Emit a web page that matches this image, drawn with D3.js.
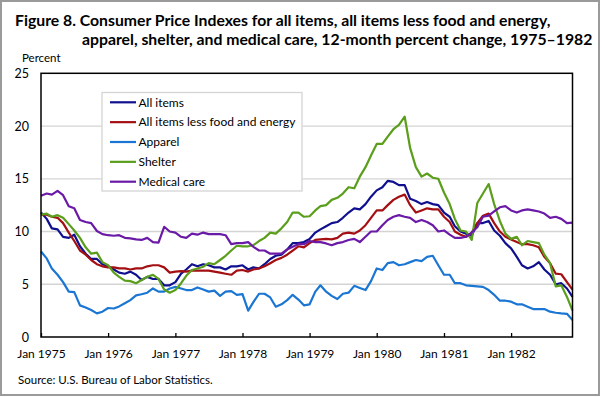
<!DOCTYPE html>
<html>
<head>
<meta charset="utf-8">
<script src="https://cdn.jsdelivr.net/npm/d3@7"></script>
<style>
  body { margin: 0; background: #fff; }
  svg { display: block; font-family: Lato, "Open Sans", sans-serif; }
</style>
</head>
<body>
<div id="chart"></div>
<script>
// monthly 12-month percent change, Jan 1975 .. Dec 1982
const startYear = 1975
const yTicks = [0, 5, 10, 15, 20, 25]

const allItems = [
    11.8, 11.2, 10.3, 10.2, 9.5, 9.4, 9.7, 8.6, 7.9, 7.4, 7.4, 6.9,
    6.7, 6.4, 6.1, 6.0, 6.2, 5.9, 5.4, 5.7, 5.5, 5.5, 4.9, 4.9,
    5.2, 6.0, 6.4, 6.9, 6.7, 6.9, 6.8, 6.6, 6.6, 6.4, 6.7, 6.7,
    6.8, 6.4, 6.6, 6.5, 6.9, 7.4, 7.7, 7.8, 8.3, 8.9, 8.9, 9.0,
    9.3, 9.9, 10.2, 10.5, 10.8, 10.9, 11.3, 11.8, 12.2, 12.1, 12.6, 13.3,
    13.9, 14.2, 14.8, 14.7, 14.4, 14.4, 13.1, 12.9, 12.6, 12.8, 12.6, 12.5,
    11.8, 11.4, 10.5, 10.0, 9.8, 9.6, 10.8, 10.8, 11.0, 10.1, 9.6, 8.9,
    8.4, 7.6, 6.8, 6.5, 6.7, 7.1, 6.4, 5.9, 5.0, 5.1, 4.6, 3.8
]
const lessFoodEnergy = [
    11.6, 11.6, 11.4, 11.3, 10.8, 9.9, 9.1, 8.2, 7.8, 7.3, 6.9, 6.7,
    6.6, 6.6, 6.5, 6.5, 6.4, 6.5, 6.5, 6.7, 6.8, 6.8, 6.6, 6.1,
    6.2, 6.25, 6.2, 6.3, 6.3, 6.3, 6.3, 6.2, 6.1, 6.0, 5.9, 6.3,
    6.35, 6.2, 6.4, 6.5, 6.7, 7.0, 7.3, 7.5, 7.8, 8.2, 8.6, 8.5,
    8.9, 9.2, 9.25, 9.3, 9.25, 9.4, 9.8, 9.9, 9.8, 10.1, 10.6, 11.3,
    12.0, 12.0, 12.5, 13.0, 13.3, 13.5, 12.5, 11.8, 12.0, 12.2, 12.1, 12.1,
    11.4, 10.9, 10.0, 9.7, 9.5, 9.9, 10.8, 11.5, 11.7, 10.8, 10.0, 9.5,
    9.25, 9.0, 8.8, 8.8, 8.7, 8.5, 7.6, 7.0, 6.0, 5.95, 5.2, 4.5
]
const apparel = [
    8.1, 7.45, 6.5, 5.9, 5.2, 4.3, 4.25, 3.0, 2.8, 2.56, 2.24, 2.4,
    2.75, 2.7, 2.9, 3.2, 3.5, 3.95, 4.05, 4.2, 4.6, 4.3, 4.3, 4.6,
    4.75, 4.6, 4.45, 4.45, 4.7, 4.5, 4.3, 4.4, 3.9, 4.3, 4.35, 4.0,
    4.07, 2.5, 3.3, 4.1, 4.1, 3.75, 2.87, 3.1, 3.5, 4.0, 3.55, 3.0,
    3.1, 4.3, 4.9, 4.3, 3.9, 3.6, 4.1, 4.2, 4.85, 4.65, 4.45, 5.3,
    6.5, 6.35, 7.0, 7.1, 6.8, 6.9, 7.1, 7.3, 7.2, 7.6, 7.7, 6.8,
    5.9, 5.9, 5.1, 5.1, 4.9, 4.85, 4.8, 4.75, 4.45, 4.0, 3.44, 3.44,
    3.35, 3.1, 3.1, 2.87, 2.65, 2.65, 2.65, 2.4, 2.3, 2.24, 2.2, 1.6
]
const shelter = [
    11.6, 11.7, 11.4, 11.55, 11.3, 10.7, 10.1, 9.4, 8.5, 7.9, 8.0, 7.1,
    6.8, 6.1, 5.7, 5.35, 5.3, 5.1, 5.4, 5.7, 5.9, 5.5, 4.5, 4.2,
    4.45, 5.1, 5.8, 6.35, 6.5, 6.66, 7.0, 6.9, 7.3, 7.7, 8.2, 8.65,
    8.6, 8.6, 8.7, 9.1, 9.4, 9.9, 9.8, 10.3, 10.9, 11.8, 11.8, 11.4,
    11.45, 12.0, 12.4, 12.5, 13.0, 13.2, 13.6, 14.2, 14.1, 15.2, 16.1, 17.2,
    18.3, 18.3, 19.0, 19.7, 20.1, 20.9, 17.9, 16.1, 15.2, 15.5, 15.1, 15.0,
    13.7, 12.6, 11.2, 10.1, 10.0, 9.2, 12.7, 13.6, 14.5, 12.6, 11.0, 9.8,
    9.3, 9.5, 8.7, 9.1, 9.0, 8.9, 7.8, 7.0, 4.8, 4.9, 3.8, 2.5
]
const medicalCare = [
    13.4, 13.6, 13.5, 13.85, 13.45, 12.4, 12.2, 11.1, 10.9, 10.8, 10.05, 9.75,
    9.65, 9.6, 9.65, 9.4, 9.35, 9.25, 9.2, 9.4, 9.0, 8.95, 10.45, 10.0,
    9.9, 9.5, 9.4, 9.8, 9.7, 9.9, 9.75, 9.75, 9.75, 9.65, 8.8, 8.9,
    8.9, 9.0, 8.55, 8.2, 8.2, 7.9, 7.9, 7.9, 8.3, 8.55, 8.8, 8.8,
    9.1, 9.0, 9.0, 8.87, 8.7, 8.9, 9.0, 9.2, 9.3, 9.0, 9.5, 10.0,
    10.0, 10.6, 11.1, 11.4, 11.55, 11.4, 11.3, 10.9, 11.1, 10.9, 10.6, 10.0,
    10.1, 9.7, 9.4, 9.4, 9.5, 9.9, 10.4, 11.4, 11.5, 11.9, 12.3, 12.4,
    12.0, 11.8, 12.0, 12.1, 12.0, 11.9, 11.7, 11.3, 11.4, 11.2, 10.8, 10.85
]

const seriesNames = ["All items", "All items less food and energy", "Apparel", "Shelter", "Medical care"]
const seriesValues = [allItems, lessFoodEnergy, apparel, shelter, medicalCare]
const seriesColors = ["#10108f", "#a30f12", "#1a76d2", "#5a9e1c", "#6a1aa6"]

const W = 605, H = 397
const plot = { left: 41, right: 572.5, top: 73.3, bottom: 337 }

const svg = d3.select("#chart").append("svg")
    .attr("width", W)
    .attr("height", H)

// outer frame
svg.append("rect")
    .attr("x", 1).attr("y", 1)
    .attr("width", 598).attr("height", 394)
    .attr("fill", "#fff")
    .attr("stroke", "#9a9a9a")
    .attr("stroke-width", 2)

// shrink/grow font so a line spans a given width
function fitText(t, target) {
    let fs = parseFloat(t.attr("font-size"))
    let w = t.node().getComputedTextLength()
    t.attr("font-size", fs * target / w)
}

// title
const t1 = svg.append("text")
    .attr("x", 15).attr("y", 26)
    .attr("font-size", 15).attr("font-weight", "bold")
    .text("Figure 8. Consumer Price Indexes for all items, all items less food and energy,")
fitText(t1, 536)
const t2 = svg.append("text")
    .attr("x", 82).attr("y", 45)
    .attr("font-size", 15).attr("font-weight", "bold")
    .text("apparel, shelter, and medical care, 12-month percent change, 1975\u20131982")
fitText(t2, 511)

const dates = allItems.map(function (d, i) { return new Date(startYear, i, 1) })

const x = d3.scaleTime()
    .domain([dates[0], dates[dates.length - 1]])
    .range([plot.left, plot.right])

const y = d3.scaleLinear()
    .domain([0, 25])
    .range([plot.bottom, plot.top])

// grid
svg.append("g")
    .selectAll("line")
    .data(yTicks.filter(function (d) { return d > 0 && d < 25 }))
    .join("line")
    .attr("x1", plot.left).attr("x2", plot.right)
    .attr("y1", function (d) { return y(d) })
    .attr("y2", function (d) { return y(d) })
    .attr("stroke", "#d4d4d4")
    .attr("stroke-width", 1.3)

// y labels
svg.append("g")
    .selectAll("text")
    .data(yTicks)
    .join("text")
    .attr("x", 29)
    .attr("y", function (d) { return y(d) + 4.5 })
    .attr("text-anchor", "end")
    .attr("font-size", 12.5)
    .text(function (d) { return d })

svg.append("text")
    .attr("x", 22).attr("y", 62)
    .attr("font-size", 11.5)
    .text("Percent")

// x axis ticks (inward) and labels
const xTicks = d3.timeYear.range(new Date(startYear, 0, 1), new Date(1983, 0, 1))
const xAxis = d3.axisBottom(x)
    .tickValues(xTicks)
    .tickSize(-4)
    .tickFormat(d3.timeFormat("%b %Y"))
const gx = svg.append("g")
    .attr("transform", `translate(0,${plot.bottom})`)
    .call(xAxis)
gx.select(".domain").remove()
gx.selectAll(".tick line").attr("stroke", "#000").attr("stroke-width", 1.3)
gx.selectAll(".tick text")
    .attr("y", 21)
    .attr("dy", 0)
    .attr("font-family", "Lato, sans-serif")
    .attr("font-size", 12)
    .attr("fill", "#000")

// legend
const lg = svg.append("g")
lg.append("rect")
    .attr("x", 102).attr("y", 92.5)
    .attr("width", 200).attr("height", 98.5)
    .attr("fill", "#fff")
    .attr("stroke", "#d4d4d4")
    .attr("stroke-width", 1.3)
const items = lg.selectAll("g.item")
    .data(seriesNames)
    .join("g")
    .attr("class", "item")
    .attr("transform", function (d, i) { return `translate(0,${102.3 + i * 19.85})` })
items.append("line")
    .attr("x1", 110).attr("x2", 136)
    .attr("stroke", function (d, i) { return seriesColors[i] })
    .attr("stroke-width", 2.2)
items.append("text")
    .attr("x", 138.5).attr("y", 4.3)
    .attr("font-size", 12)
    .text(function (d) { return d })

// lines
const line = d3.line()
    .x(function (d, i) { return x(dates[i]) })
    .y(function (d) { return y(d) })

svg.append("g")
    .selectAll("path")
    .data(seriesValues)
    .join("path")
    .attr("d", function (d) { return line(d) })
    .attr("fill", "none")
    .attr("stroke", function (d, i) { return seriesColors[i] })
    .attr("stroke-width", 2.2)
    .attr("stroke-linejoin", "round")

// plot frame
svg.append("rect")
    .attr("x", plot.left).attr("y", plot.top)
    .attr("width", plot.right - plot.left)
    .attr("height", plot.bottom - plot.top)
    .attr("fill", "none")
    .attr("stroke", "#000")
    .attr("stroke-width", 1.5)

// source
svg.append("text")
    .attr("x", 18).attr("y", 384)
    .attr("font-size", 11.5)
    .text("Source: U.S. Bureau of Labor Statistics.")
</script>
</body>
</html>
